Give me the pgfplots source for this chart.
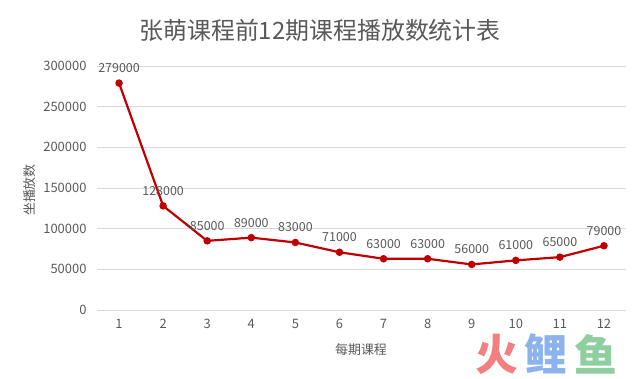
\documentclass[border=0pt]{standalone}
\usepackage{pgfplots}
\pgfplotsset{compat=1.18}
\usepackage{fontspec}
\setmainfont{Noto Sans CJK SC}
\definecolor{linered}{HTML}{C00000}
\definecolor{gridc}{HTML}{D9D9D9}
\definecolor{txt}{HTML}{595959}
\definecolor{wmr}{HTML}{F47F7F}
\definecolor{wmb}{HTML}{8DB3EF}
\definecolor{wmg}{HTML}{8FCF9F}
\begin{document}
\begin{tikzpicture}[x=1bp,y=1bp]
\path[use as bounding box] (0,0) rectangle (642,378);
\begin{axis}[
  at={(97bp,68bp)}, anchor=south west,
  scale only axis, width=529bp, height=244bp,
  xmin=0.5, xmax=12.5, ymin=0, ymax=300000,
  xtick={1,...,12}, ytick={0,50000,...,300000},
  axis line style={draw=none},
  tick style={draw=none},
  ymajorgrids, grid style={gridc, line width=0.8pt},
  scaled y ticks=false,
  /pgf/number format/assume math mode=true,
  yticklabel={\pgfmathprintnumber[fixed,precision=0,1000 sep={}]{\tick}},
  ticklabel style={font=\fontsize{13}{15}\selectfont, text=txt},
  yticklabel style={xshift=-7bp},
  xticklabel style={yshift=-6bp},
  clip=false,
]
\addplot[linered, line width=2.2pt, mark=*, mark size=2.6pt,
  nodes near coords,
  nodes near coords style={font=\fontsize{12.5}{14}\selectfont, text=txt, anchor=south, yshift=6bp,
    /pgf/number format/fixed, /pgf/number format/precision=0, /pgf/number format/1000 sep={}, /pgf/number format/assume math mode=true}]
  coordinates {(1,279000)(2,128000)(3,85000)(4,89000)(5,83000)(6,71000)(7,63000)(8,63000)(9,56000)(10,61000)(11,65000)(12,79000)};
\end{axis}
\node[text=txt, font=\fontsize{24}{28}\selectfont] at (320,348) {张萌课程前12期课程播放数统计表};
\node[text=txt, font=\fontsize{13}{15}\selectfont] at (361,28) {每期课程};
\node[text=txt, font=\fontsize{13}{15}\selectfont, rotate=90] at (30,188) {坐播放数};
\node[text=wmr, font=\fontsize{43}{46}\selectfont\bfseries, anchor=center] at (497,24) {火};
\node[text=wmb, font=\fontsize{43}{46}\selectfont\bfseries, anchor=center] at (546,24) {鲤};
\node[text=wmg, font=\fontsize{43}{46}\selectfont\bfseries, anchor=center] at (596,24) {鱼};
\end{tikzpicture}
\end{document}
